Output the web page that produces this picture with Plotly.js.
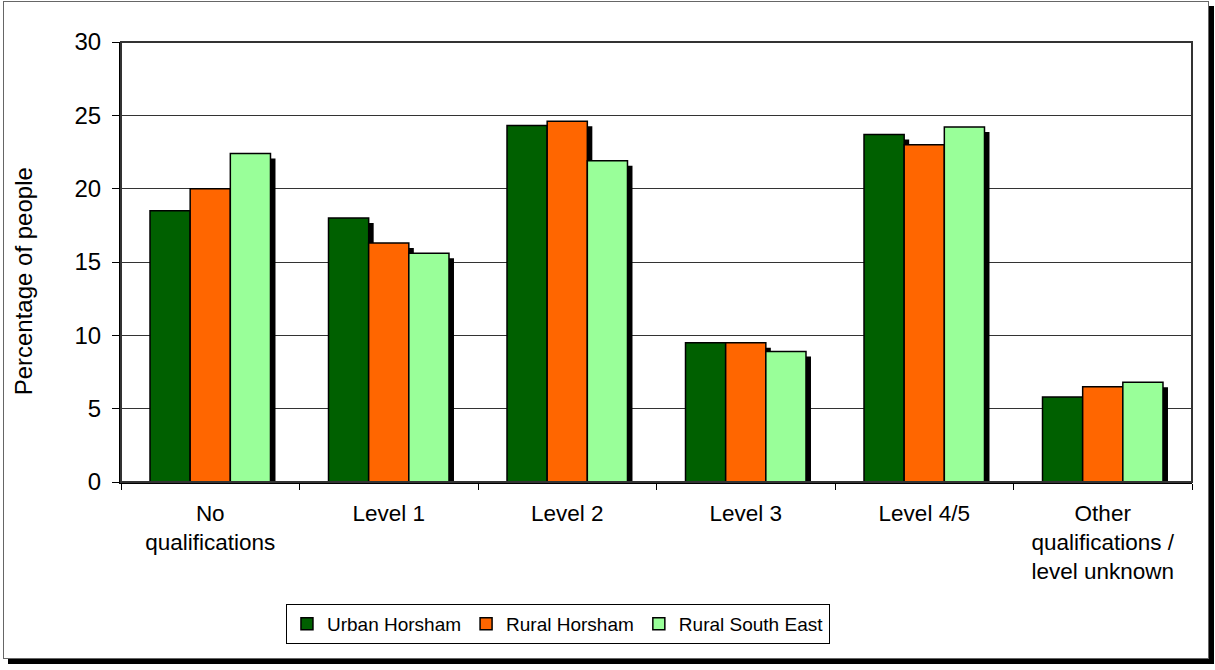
<!DOCTYPE html>
<html>
<head>
<meta charset="utf-8">
<script src="https://cdn.plot.ly/plotly-3.0.1.min.js"></script>
<style>
  html, body { margin: 0; padding: 0; background: #fff; }
  #chart { position: absolute; left: 0; top: 0; width: 1215px; height: 670px; }
  #frame { position: absolute; left: 3px; top: 1px; width: 1204px; height: 656px;
           border: 1px solid #666; box-shadow: 5px 5px 0 #000; pointer-events: none; }
</style>
</head>
<body>
<div id="chart"></div>
<div id="frame"></div>
<script>
// ---- data ----
const categories = [
  "No<br>qualifications",
  "Level 1",
  "Level 2",
  "Level 3",
  "Level 4/5",
  "Other<br>qualifications /<br>level unknown"
];
const seriesNames = ["Urban Horsham", "Rural Horsham", "Rural South East"];
const urbanHorsham   = [18.5, 18.0, 24.3, 9.5, 23.7, 5.8];
const ruralHorsham   = [20.0, 16.3, 24.6, 9.5, 23.0, 6.5];
const ruralSouthEast = [22.4, 15.6, 21.9, 8.9, 24.2, 6.8];
const yTicks = [0, 5, 10, 15, 20, 25, 30];
const yTitle = "Percentage of people";

// ---- styling ----
const colors = ["#006000", "#FF6600", "#99FF99"];
const allSeries = [urbanHorsham, ruralHorsham, ruralSouthEast];
const plotH = 440, plotW = 1071.5, yMax = 30;
const barW = 0.225;
const shadowPx = 5;
const shadowDy = shadowPx * yMax / plotH;
const shadowDx = shadowPx * categories.length / plotW;

const traces = [];
// shadows first (drawn beneath)
allSeries.forEach((vals, i) => {
  traces.push({
    type: "bar",
    x: categories,
    y: vals.map(v => Math.max(0, v - shadowDy)),
    width: barW,
    offset: -1.5 * barW + i * barW + shadowDx,
    marker: { color: "#000", line: { width: 0 } },
    showlegend: false,
    hoverinfo: "skip"
  });
});
allSeries.forEach((vals, i) => {
  traces.push({
    type: "bar",
    name: seriesNames[i],
    x: categories,
    y: vals,
    width: barW,
    offset: -1.5 * barW + i * barW,
    marker: { color: colors[i], line: { color: "#000", width: 1.5 } }
  });
});

const layout = {
  width: 1215,
  height: 670,
  margin: { l: 120.5, r: 23, t: 42, b: 188 },
  paper_bgcolor: "#fff",
  plot_bgcolor: "#fff",
  barmode: "overlay",
  font: { family: "Liberation Sans, Arial, sans-serif", color: "#000" },
  showlegend: true,
  legend: {
    orientation: "h",
    x: 0.408, xanchor: "center",
    y: -0.277, yanchor: "top",
    bordercolor: "#000", borderwidth: 1,
    bgcolor: "#fff",
    font: { size: 19 },
    itemwidth: 30,
    traceorder: "normal"
  },
  xaxis: {
    type: "category",
    tickson: "boundaries",
    ticks: "outside",
    ticklen: 6,
    tickcolor: "#000",
    showline: true,
    linecolor: "#000",
    linewidth: 1.5,
    mirror: false,
    showgrid: false,
    tickfont: { size: 22.5 },
    ticklabelstandoff: 10,
    automargin: false
  },
  yaxis: {
    range: [0, yMax],
    tickvals: yTicks,
    ticktext: yTicks.map(String),
    ticks: "outside",
    ticklen: 7,
    tickcolor: "#000",
    showline: true,
    linecolor: "#000",
    linewidth: 2,
    showgrid: true,
    gridcolor: "#333",
    gridwidth: 1,
    zeroline: false,
    tickfont: { size: 24 },
    ticklabelstandoff: 6,
    automargin: false
  },
  annotations: [
    { text: yTitle, textangle: -90, xref: "paper", yref: "paper",
      x: -0.091, y: 0.455, xanchor: "center", yanchor: "middle",
      showarrow: false, font: { size: 24 } }
  ],
  shapes: [
    { type: "rect", xref: "paper", yref: "paper", x0: 0, x1: 1, y0: 0, y1: 1,
      line: { color: "#333", width: 2 }, fillcolor: "rgba(0,0,0,0)", layer: "above" }
  ]
};

Plotly.newPlot("chart", traces, layout, { staticPlot: true, displayModeBar: false });
</script>
</body>
</html>
